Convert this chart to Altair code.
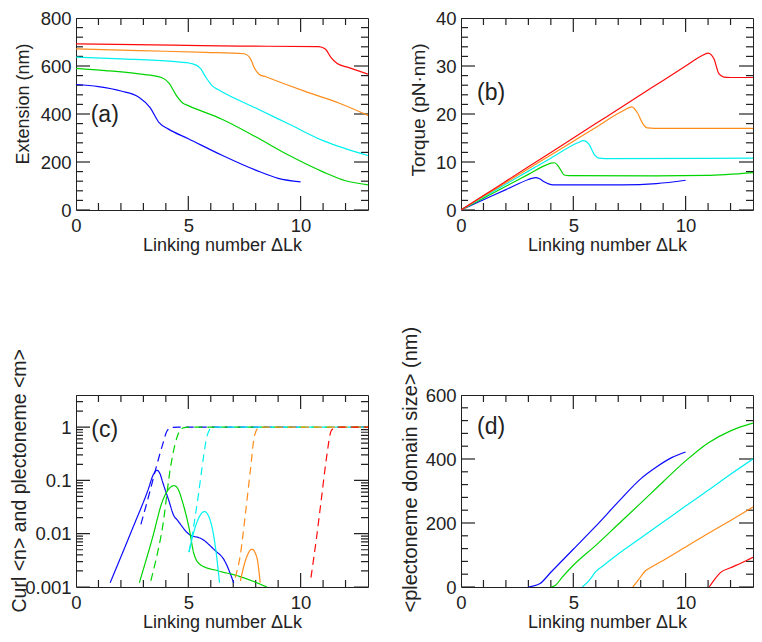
import math
import altair as alt
import pandas as pd

FONT = "Liberation Sans"
INK = "#222222"
NAMES = ["blue", "green", "cyan", "orange", "red"]
COLORS = ["#0a0aff", "#00d400", "#00f0f0", "#ff8c1a", "#ff0a0a"]

X_TITLE = "Linking number \u0394Lk"
X_MAJOR = [0, 5, 10]
X_MINOR = [1, 2, 3, 4, 6, 7, 8, 9, 11, 12]

# ---------------- (a) Extension (nm) ----------------
A_BLUE_K = [0, 1.0, 2.0, 2.8, 3.3, 3.7, 4.1, 5.0, 6.5, 8.0, 9.0, 10.0]
A_BLUE_V = [523, 514, 496, 470, 427, 364, 338, 297, 228, 166, 132, 117]
A_GREEN_K = [0, 1.3, 2.8, 3.8, 4.15, 4.45, 4.75, 5.0, 6.5, 8.0, 9.5, 11.0, 12.0, 13.0]
A_GREEN_V = [590, 581, 567, 552, 528, 480, 446, 435, 378, 305, 227, 159, 122, 105]
A_CYAN_K = [0, 2.0, 4.3, 5.2, 5.55, 5.77, 6.07, 6.36, 8.0, 9.5, 11.0, 13.0]
A_CYAN_V = [637, 630, 619, 609, 589, 555, 517, 500, 425, 357, 289, 227]
A_ORANGE_K = [0, 2.8, 5.8, 7.48, 7.77, 7.92, 8.15, 8.45, 10.2, 11.7, 13.0]
A_ORANGE_V = [671, 664, 657, 651, 630, 596, 566, 555, 494, 446, 394]
A_RED_K = [0, 4.3, 7.3, 10.8, 11.1, 11.34, 11.63, 12.15, 13.0]
A_RED_V = [692, 687, 683, 681, 671, 637, 610, 593, 566]

# ---------------- (b) Torque (pN nm) ----------------
B_BLUE_K = [0, 1.0, 2.0, 3.0, 3.15, 3.34, 3.5, 3.7, 3.9, 4.1, 7.2, 8.7, 10.0]
B_BLUE_V = [0, 2.12, 4.25, 6.35, 6.6, 6.74, 6.5, 5.9, 5.45, 5.25, 5.23, 5.5, 6.2]
B_GREEN_K = [0, 1.0, 2.0, 3.0, 3.8, 4.0, 4.16, 4.38, 4.6, 4.8, 8.7, 10.9, 13.0]
B_GREEN_V = [0, 2.47, 4.95, 7.42, 9.4, 9.75, 9.84, 8.8, 7.3, 7.15, 7.1, 7.2, 7.8]
B_CYAN_K = [0, 1.0, 2.0, 3.0, 4.0, 5.2, 5.45, 5.71, 5.93, 6.15, 6.4, 13.0]
B_CYAN_V = [0, 2.69, 5.4, 8.1, 10.8, 14.0, 14.45, 13.6, 11.6, 10.8, 10.7, 10.8]
B_ORANGE_K = [0, 1.0, 2.0, 3.0, 4.0, 5.0, 6.0, 7.3, 7.6, 7.86, 8.08, 8.3, 8.6, 13.0]
B_ORANGE_V = [0, 2.86, 5.72, 8.6, 11.45, 14.3, 17.2, 20.9, 21.5, 20.2, 18.1, 17.1, 17.0, 17.0]
B_RED_K = [0, 1.0, 2.0, 3.0, 4.0, 5.0, 6.0, 7.0, 8.0, 9.0, 10.0, 10.7, 11.0, 11.26, 11.48,
           11.7, 12.0, 13.0]
B_RED_V = [0, 3.0, 6.0, 9.0, 12.0, 15.0, 18.0, 21.0, 24.0, 27.0, 30.0, 32.1, 32.7, 31.5, 28.4,
           27.7, 27.6, 27.6]

# ---------------- (c) Curl <n> (solid) and plectoneme <m> (dashed) ----------------
C_N_BLUE_K = [1.52, 2.52, 3.2, 3.45, 3.6, 3.75, 3.85, 4.14, 4.35, 4.51, 5.03, 5.62, 6.2, 6.58, 7.02]
C_N_BLUE_V = [0.0012, 0.0126, 0.065, 0.13, 0.155, 0.13, 0.095, 0.041, 0.022, 0.018,
              0.0098, 0.0079, 0.0048, 0.0033, 0.0012]
C_N_GREEN_K = [2.82, 3.41, 3.85, 4.2, 4.37, 4.55, 4.73, 5.03, 5.25, 5.55, 6.36, 7.24, 8.5]
C_N_GREEN_V = [0.0012, 0.0085, 0.041, 0.074, 0.080, 0.068, 0.041, 0.013, 0.0042, 0.0026,
               0.0020, 0.0016, 0.001]
C_N_CYAN_K = [5.03, 5.25, 5.47, 5.72, 5.99, 6.21, 6.39]
C_N_CYAN_V = [0.0045, 0.011, 0.020, 0.026, 0.017, 0.0055, 0.0012]
C_N_ORANGE_K = [7.32, 7.54, 7.83, 8.05, 8.2]
C_N_ORANGE_V = [0.0013, 0.0031, 0.0051, 0.0036, 0.0012]

C_M_BLUE_K = [2.89, 3.29, 3.56, 3.85, 4.07, 4.29, 4.6, 10.0]
C_M_BLUE_V = [0.015, 0.062, 0.17, 0.46, 0.87, 0.99, 1.0, 1.0]
C_M_GREEN_K = [3.33, 3.55, 3.85, 4.22, 4.59, 4.81, 5.1, 13.0]
C_M_GREEN_V = [0.0013, 0.0031, 0.013, 0.19, 0.81, 0.98, 1.0, 1.0]
C_M_CYAN_K = [5.03, 5.18, 5.47, 5.69, 5.84, 6.06, 6.3, 13.0]
C_M_CYAN_V = [0.0045, 0.0098, 0.062, 0.30, 0.70, 0.98, 1.0, 1.0]
C_M_ORANGE_K = [7.09, 7.32, 7.54, 7.76, 7.95, 8.13, 8.4, 13.0]
C_M_ORANGE_V = [0.0015, 0.0041, 0.023, 0.15, 0.70, 0.97, 1.0, 1.0]
C_M_RED_K = [10.46, 10.71, 10.93, 11.15, 11.37, 11.59, 11.8, 13.0]
C_M_RED_V = [0.0015, 0.0085, 0.047, 0.26, 0.87, 0.99, 1.0, 1.0]

# ---------------- (d) <plectoneme domain size> (nm) ----------------
D_BLUE_K = [3.0, 3.5, 4.0, 5.0, 6.0, 7.0, 8.0, 8.7, 9.4, 10.0]
D_BLUE_V = [0, 10, 46, 118, 190, 266, 338, 375, 405, 422]
D_GREEN_K = [4.0, 4.2, 4.5, 5.0, 6.0, 7.0, 8.0, 9.0, 10.0, 11.0, 12.0, 13.0]
D_GREEN_V = [0, 5, 30, 68, 130, 196, 262, 329, 394, 450, 488, 512]
D_CYAN_K = [5.4, 5.7, 6.0, 6.3, 7.0, 8.0, 9.0, 10.0, 11.0, 12.0, 13.0]
D_CYAN_V = [0, 20, 48, 65, 103, 153, 203, 253, 302, 352, 400]
D_ORANGE_K = [7.65, 7.9, 8.2, 8.5, 9.0, 10.0, 11.0, 12.0, 13.0]
D_ORANGE_V = [0, 22, 50, 63, 83, 125, 167, 208, 250]
D_RED_K = [11.05, 11.25, 11.55, 12.0, 12.5, 13.0]
D_RED_V = [0, 20, 45, 60, 76, 93]

PANEL_LABELS = ["(a)", "(b)", "(c)", "(d)"]
Y_TITLES = ["Extension (nm)", "Torque (pN\u00b7nm)",
            "Curl <n> and plectoneme <m>", "<plectoneme domain size> (nm)"]

W, H = 292, 192
MAJ_LEN, MIN_LEN = 14, 7
X_END = 13.0


def frame(items):
    rows = []
    for name, ks, vs, kind in items:
        for k, v in zip(ks, vs):
            rows.append({"k": k, "y": v, "series": name, "kind": kind, "grp": name + kind})
    return pd.DataFrame(rows)


def tick_frame(ydom, ytype, ymaj, ymin):
    """Inward frame ticks, as short two-point segments placed at the tick values."""
    def step(y, ln, up):
        if ytype == "log":
            f = 10 ** (ln / H * math.log10(ydom[1] / ydom[0]))
            return y * f if up else y / f
        d = ln / H * (ydom[1] - ydom[0])
        return y + d if up else y - d

    segs = []
    for vals, ln in ((ymaj, MAJ_LEN), (ymin, MIN_LEN)):
        dx = ln / W * X_END
        for v in vals:
            segs.append(((0, v), (dx, v)))
            segs.append(((X_END, v), (X_END - dx, v)))
    for vals, ln in ((X_MAJOR, MAJ_LEN), (X_MINOR, MIN_LEN)):
        for k in vals:
            segs.append(((k, ydom[0]), (k, step(ydom[0], ln, True))))
            segs.append(((k, ydom[1]), (k, step(ydom[1], ln, False))))
    rows = []
    for i, (p0, p1) in enumerate(segs):
        for kx, vy in (p0, p1):
            rows.append({"k": kx, "y": vy, "series": "frame", "kind": "n", "grp": f"tick{i}"})
    return pd.DataFrame(rows)


def panel(df, ydom, ytype, ymaj, ymin, ylabels, yfmt, ytitle, ttx, tty, tfs,
          label, lx, ly, dashed=False):
    xs = alt.Scale(domain=[0, X_END], nice=False, zero=False)
    if ytype == "log":
        ys = alt.Scale(domain=ydom, type="log", nice=False)
    else:
        ys = alt.Scale(domain=ydom, nice=False, zero=False)

    xaxis = alt.Axis(values=X_MAJOR, labelPadding=6, title=X_TITLE,
                     titleX=W / 2, titleY=40, titleAlign="center",
                     titleBaseline="alphabetic", titleAngle=0)
    yaxis = alt.Axis(values=ylabels, format=yfmt, labelPadding=5, title=ytitle,
                     titleAngle=270, titleAlign="left", titleBaseline="alphabetic",
                     titleX=ttx, titleY=tty, titleFontSize=tfs)

    data = pd.concat([tick_frame(ydom, ytype, ymaj, ymin), df], ignore_index=True)

    enc = dict(
        x=alt.X("k:Q", scale=xs, axis=xaxis),
        y=alt.Y("y:Q", scale=ys, axis=yaxis),
        color=alt.Color("series:N", scale=alt.Scale(domain=NAMES + ["frame"],
                                                    range=COLORS + [INK]), legend=None),
        detail=alt.Detail("grp:N"),
    )
    if dashed:
        enc["strokeDash"] = alt.StrokeDash(
            "kind:N", scale=alt.Scale(domain=["n", "m"], range=[[1, 0], [8, 5]]), legend=None)
    lines = alt.Chart(data).mark_line(clip=True, strokeWidth=1.2,
                                      interpolate="monotone").encode(**enc)

    text = alt.Chart(pd.DataFrame({"lab": [label]})).mark_text(
        font=FONT, fontSize=23, align="center", baseline="middle", color=INK).encode(
        x=alt.XDatum(lx, type="quantitative", scale=xs, axis=None),
        y=alt.YDatum(ly, type="quantitative", scale=ys, axis=None),
        text="lab:N")
    return alt.layer(lines, text).resolve_axis(x="independent", y="independent").properties(
        width=W, height=H)


df_a = frame([
    ("blue", A_BLUE_K, A_BLUE_V, "n"), ("green", A_GREEN_K, A_GREEN_V, "n"),
    ("cyan", A_CYAN_K, A_CYAN_V, "n"), ("orange", A_ORANGE_K, A_ORANGE_V, "n"),
    ("red", A_RED_K, A_RED_V, "n")])
df_b = frame([
    ("blue", B_BLUE_K, B_BLUE_V, "n"), ("green", B_GREEN_K, B_GREEN_V, "n"),
    ("cyan", B_CYAN_K, B_CYAN_V, "n"), ("orange", B_ORANGE_K, B_ORANGE_V, "n"),
    ("red", B_RED_K, B_RED_V, "n")])
df_c = frame([
    ("blue", C_N_BLUE_K, C_N_BLUE_V, "n"), ("green", C_N_GREEN_K, C_N_GREEN_V, "n"),
    ("cyan", C_N_CYAN_K, C_N_CYAN_V, "n"), ("orange", C_N_ORANGE_K, C_N_ORANGE_V, "n"),
    ("blue", C_M_BLUE_K, C_M_BLUE_V, "m"), ("green", C_M_GREEN_K, C_M_GREEN_V, "m"),
    ("cyan", C_M_CYAN_K, C_M_CYAN_V, "m"), ("orange", C_M_ORANGE_K, C_M_ORANGE_V, "m"),
    ("red", C_M_RED_K, C_M_RED_V, "m")])
df_d = frame([
    ("blue", D_BLUE_K, D_BLUE_V, "n"), ("green", D_GREEN_K, D_GREEN_V, "n"),
    ("cyan", D_CYAN_K, D_CYAN_V, "n"), ("orange", D_ORANGE_K, D_ORANGE_V, "n"),
    ("red", D_RED_K, D_RED_V, "n")])

log_minor = [m * 10 ** e for e in (-3, -2, -1) for m in range(2, 10)] + [2, 3]

pa = panel(df_a, [0, 800], "linear", [0, 200, 400, 600, 800],
           [v for v in range(40, 800, 40) if v % 200], [0, 200, 400, 600, 800], "d",
           Y_TITLES[0], -48, 146, 18, PANEL_LABELS[0], 1.28, 395)
pb = panel(df_b, [0, 40], "linear", [0, 10, 20, 30, 40],
           [v for v in range(2, 40, 2) if v % 10], [0, 10, 20, 30, 40], "d",
           Y_TITLES[1], -37, 158, 19, PANEL_LABELS[1], 1.34, 24.4)
pc = panel(df_c, [0.001, 4], "log", [0.001, 0.01, 0.1, 1], log_minor,
           [0.001, 0.01, 0.1, 1], "~g",
           Y_TITLES[2], -51, 217, 19.5, PANEL_LABELS[2], 1.28, 0.9, dashed=True)
pd_ = panel(df_d, [0, 600], "linear", [0, 200, 400, 600],
            [v for v in range(40, 600, 40) if v % 200], [0, 200, 400, 600], "d",
            Y_TITLES[3], -45, 217, 20, PANEL_LABELS[3], 1.34, 500)

chart = alt.concat(
    pa, pb, pc, pd_, columns=2,
    spacing=alt.RowColnumber(row=185, column=93), bounds="flush",
).properties(
    padding=0, background="white"
).configure_view(stroke=INK, strokeWidth=1).configure_axis(
    labelFont=FONT, labelFontSize=18.5, labelColor=INK, labelFlush=False,
    titleFont=FONT, titleFontSize=18, titleFontWeight="normal", titleColor=INK,
    grid=False, ticks=False, domain=False)

chart.save("out.html", embed_options={"renderer": "svg", "actions": False})
